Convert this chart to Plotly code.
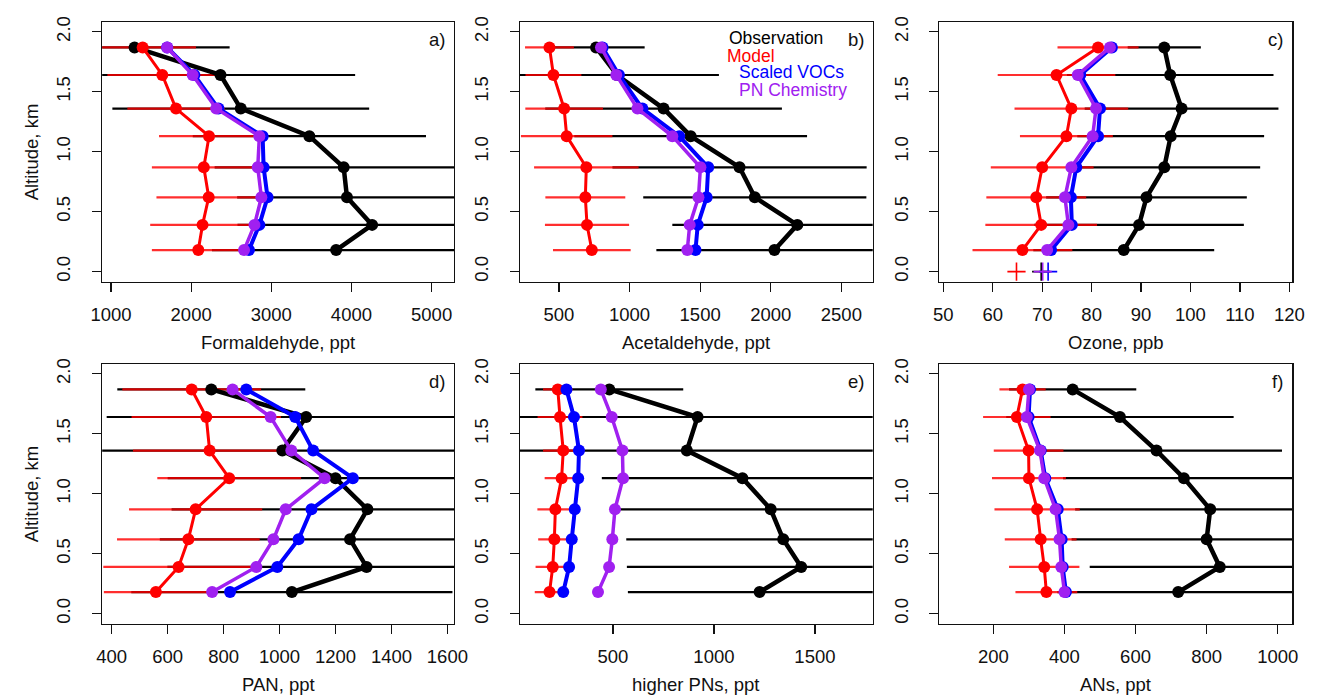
import plotly.graph_objects as go

# ---------------- data (bottom -> top altitude bins) ----------------
altitude_km = [0.18, 0.39, 0.62, 0.87, 1.13, 1.36, 1.64, 1.87]

hcho_obs = [3809, 4258, 3944, 3903, 3475, 2619, 2366, 1294]
hcho_obs_sd = [1550, 1680, 1370, 1610, 1455, 1602, 1680, 1186]
hcho_model = [2089, 2142, 2219, 2158, 2223, 1811, 1640, 1395]
hcho_model_sd = [579, 653, 652, 648, 624, 607, 685, 665]
hcho_scaled = [2721, 2851, 2953, 2904, 2892, 2341, 2040, 1701]
hcho_pn = [2660, 2790, 2876, 2831, 2851, 2313, 2019, 1701]

acet_obs = [2026, 2188, 1887, 1779, 1433, 1241, 911, 763]
acet_obs_sd = [836, 885, 790, 900, 824, 838, 722, 344]
acet_model = [733, 699, 687, 694, 555, 537, 461, 433]
acet_model_sd = [275, 298, 283, 370, 324, 275, 198, 173]
acet_scaled = [1467, 1483, 1546, 1557, 1352, 1091, 925, 809]
acet_pn = [1409, 1426, 1488, 1502, 1303, 1056, 906, 798]

o3_obs = [86.5, 89.6, 91.1, 94.7, 96.0, 98.2, 95.9, 94.7]
o3_obs_sd = [18.3, 21.2, 20.3, 19.4, 18.9, 19.6, 20.9, 7.4]
o3_model = [66.0, 69.8, 68.8, 70.0, 74.9, 75.9, 72.9, 81.3]
o3_model_sd = [10.1, 11.3, 10.1, 10.4, 9.4, 11.5, 11.9, 8.2]
o3_scaled = [71.8, 76.0, 75.8, 76.9, 81.3, 81.7, 77.7, 84.1]
o3_pn = [71.0, 75.3, 74.6, 75.9, 80.2, 80.9, 77.2, 83.7]
# surface ozone values (drawn as "+" at altitude 0)
o3_surface_alt = [0.0]
o3_surface_obs = [69.8]
o3_surface_model = [64.8]
o3_surface_scaled = [71.2]
o3_surface_pn = [70.1]

pan_obs = [1044, 1311, 1252, 1314, 1200, 1010, 1095, 756]
pan_obs_sd = [574, 712, 680, 700, 600, 650, 713, 336]
pan_model = [558, 639, 674, 700, 820, 750, 738, 686]
pan_model_sd = [186, 269, 255, 238, 257, 274, 267, 248]
pan_scaled = [823, 992, 1068, 1114, 1262, 1120, 1056, 881]
pan_pn = [759, 917, 978, 1022, 1161, 1042, 968, 832]

hpn_obs = [1226, 1432, 1343, 1281, 1141, 866, 919, 482]
hpn_obs_sd = [652, 863, 777, 747, 696, 1000, 950, 366]
hpn_model = [186, 202, 210, 215, 246, 254, 238, 227]
hpn_model_sd = [73, 85, 80, 89, 84, 100, 111, 73]
hpn_scaled = [254, 283, 296, 311, 328, 332, 307, 270]
hpn_pn = [426, 481, 497, 510, 550, 547, 494, 440]

an_obs = [720, 837, 800, 810, 736, 659, 556, 423]
an_obs_sd = [340, 366, 380, 380, 340, 353, 320, 179]
an_model = [349, 343, 333, 323, 300, 299, 266, 282]
an_model_sd = [87, 99, 101, 120, 104, 98, 95, 65]
an_scaled = [404, 395, 392, 381, 346, 333, 299, 303]
an_pn = [400, 391, 386, 375, 343, 331, 294, 300]

x_titles = ["Formaldehyde, ppt", "Acetaldehyde, ppt", "Ozone, ppb",
            "PAN, ppt", "higher PNs, ppt", "ANs, ppt"]
panel_tags = ["a)", "b)", "c)", "d)", "e)", "f)"]
x_ticks = [[1000, 2000, 3000, 4000, 5000],
           [500, 1000, 1500, 2000, 2500],
           [50, 60, 70, 80, 90, 100, 110, 120],
           [400, 600, 800, 1000, 1200, 1400, 1600],
           [500, 1000, 1500],
           [200, 400, 600, 800, 1000]]
y_ticks = [0.0, 0.5, 1.0, 1.5, 2.0]
legend_names = ["Observation", "Model", "Scaled VOCs", "PN Chemistry"]

# ---------------- style / layout ----------------
W, H = 1321, 696
FONT = "Liberation Sans, Arial, Helvetica, sans-serif"
FS = 18.5
C_OBS, C_MOD, C_SCL, C_PN = "#000000", "#FF0000", "#0000FF", "#A020F0"
C_MOD_ERR = "rgba(255,0,0,0.82)"

x_ranges = [[890, 5281], [223, 2722], [49.2, 120.6],
            [366, 1624], [39, 1786], [48, 1041]]
y_range = [-0.083, 2.083]
col_px = [(92, 451), (518, 878), (946, 1306)]
row_px = [(16, 278), (361, 623)]

panels = [
    (hcho_obs, hcho_obs_sd, hcho_model, hcho_model_sd, hcho_scaled, hcho_pn),
    (acet_obs, acet_obs_sd, acet_model, acet_model_sd, acet_scaled, acet_pn),
    (o3_obs, o3_obs_sd, o3_model, o3_model_sd, o3_scaled, o3_pn),
    (pan_obs, pan_obs_sd, pan_model, pan_model_sd, pan_scaled, pan_pn),
    (hpn_obs, hpn_obs_sd, hpn_model, hpn_model_sd, hpn_scaled, hpn_pn),
    (an_obs, an_obs_sd, an_model, an_model_sd, an_scaled, an_pn),
]


def px_x(p):
    return p / W


def px_y(p):
    return 1 - p / H


fig = go.Figure()
layout = {}
annotations = []

for i, (obs, obs_sd, mod, mod_sd, scl, pn) in enumerate(panels):
    r, c = divmod(i, 3)
    n = "" if i == 0 else str(i + 1)
    xa, ya = "x" + n, "y" + n
    x0, x1 = col_px[c]
    y0, y1 = row_px[r]
    axis_common = dict(
        showline=True, mirror=True, linecolor="#111", linewidth=1.3,
        ticks="outside", ticklen=9, tickwidth=1.2, tickcolor="#111",
        showgrid=False, zeroline=False,
        tickfont=dict(family=FONT, size=FS, color="#111"),
        fixedrange=True,
    )
    layout["xaxis" + n] = dict(
        domain=[px_x(x0), px_x(x1)], range=x_ranges[i], anchor=ya,
        tickvals=x_ticks[i], ticktext=[str(v) for v in x_ticks[i]],
        ticklabelstandoff=7, **axis_common)
    layout["yaxis" + n] = dict(
        domain=[px_y(y1), px_y(y0)], range=y_range, anchor=xa,
        tickvals=y_ticks, ticktext=[f"{v:.1f}" for v in y_ticks],
        tickangle=-90, ticklabelstandoff=14, **axis_common)

    common = dict(xaxis=xa, yaxis=ya, showlegend=False, hoverinfo="skip")
    # error bars (observation then model)
    fig.add_trace(go.Scatter(
        x=obs, y=altitude_km, mode="markers",
        marker=dict(size=1, color="rgba(0,0,0,0)"),
        error_x=dict(type="data", array=obs_sd, symmetric=True, width=0,
                     thickness=2.2, color=C_OBS), **common))
    fig.add_trace(go.Scatter(
        x=mod, y=altitude_km, mode="markers",
        marker=dict(size=1, color="rgba(0,0,0,0)"),
        error_x=dict(type="data", array=mod_sd, symmetric=True, width=0,
                     thickness=2.2, color=C_MOD_ERR), **common))
    # profiles
    for vals, col, lw in [(obs, C_OBS, 4.5), (mod, C_MOD, 3),
                          (scl, C_SCL, 4), (pn, C_PN, 3.5)]:
        fig.add_trace(go.Scatter(
            x=vals, y=altitude_km, mode="lines+markers",
            line=dict(color=col, width=lw),
            marker=dict(color=col, size=12), **common))

    if i == 2:
        for vals, col in [(o3_surface_obs, C_OBS), (o3_surface_model, C_MOD),
                          (o3_surface_scaled, C_SCL), (o3_surface_pn, C_PN)]:
            fig.add_trace(go.Scatter(
                x=vals, y=o3_surface_alt, mode="markers",
                marker=dict(symbol="cross-thin", size=13,
                            line=dict(color=col, width=1.6)), **common))

    # panel tag
    annotations.append(dict(
        text=panel_tags[i], xref=xa + " domain", yref=ya + " domain",
        x=1, y=1, xanchor="right", yanchor="middle", xshift=-7, yshift=-18,
        showarrow=False, font=dict(family=FONT, size=FS, color="#111")))
    # x title
    annotations.append(dict(
        text=x_titles[i], xref="paper", yref="paper",
        x=px_x((x0 + x1) / 2), y=px_y(y1 + 61), xanchor="center", yanchor="middle",
        showarrow=False, font=dict(family=FONT, size=FS, color="#111")))
    if c == 0:
        annotations.append(dict(
            text="Altitude, km", xref="paper", yref="paper",
            x=px_x(20), y=px_y((y0 + y1) / 2), xanchor="center", yanchor="middle",
            textangle=-90, showarrow=False,
            font=dict(family=FONT, size=FS, color="#111")))

# legend text in panel b
for name, col, lx, ly in zip(legend_names, [C_OBS, C_MOD, C_SCL, C_PN],
                             [729, 727, 740, 740], [32, 50, 67, 85]):
    annotations.append(dict(
        text=name, xref="paper", yref="paper", x=px_x(lx), y=px_y(ly),
        xanchor="left", yanchor="middle", showarrow=False,
        font=dict(family=FONT, size=17.5, color=col)))

fig.update_layout(
    width=W, height=H, margin=dict(l=0, r=0, t=0, b=0),
    paper_bgcolor="white", plot_bgcolor="white",
    annotations=annotations, **layout)

fig.write_html(
    "out.html",
    config={"displayModeBar": False, "staticPlot": True},
    post_script="document.body.style.margin='0px';document.body.style.padding='0px';"
                "document.body.style.overflow='hidden';")
